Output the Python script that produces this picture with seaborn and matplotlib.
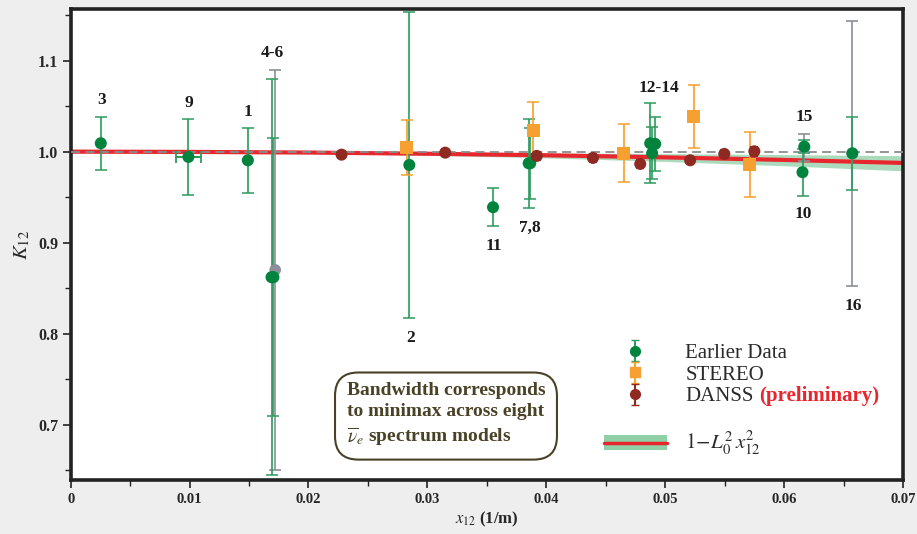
import numpy as np
import pandas as pd
import seaborn as sns
import matplotlib.pyplot as plt
from matplotlib.patches import Patch
from matplotlib.lines import Line2D
from matplotlib.legend_handler import HandlerTuple

# earlier data (green)
early_x = [0.00253, 0.0099, 0.0149, 0.01689, 0.01705, 0.02848, 0.03552, 0.03852,
           0.03865, 0.04874, 0.04916, 0.0489, 0.06155, 0.0617, 0.06574]
early_y = [1.0092, 0.9942, 0.9905, 0.862, 0.862, 0.9854, 0.9389, 0.9872,
           0.9872, 1.0092, 1.0085, 0.9982, 0.9774, 1.0055, 0.9982]
early_err = [0.029, 0.042, 0.0355, 0.218, 0.153, 0.168, 0.0207, 0.049,
             0.039, 0.044, 0.0295, 0.0288, 0.026, 0.007, 0.040]
early_xerr = [0, 0.00108, 0, 0, 0, 0, 0, 0, 0, 0, 0, 0, 0, 0, 0]

# alternative values of the earlier data (grey)
alt_x = [0.0172, 0.0617, 0.06574]
alt_y = [0.870, 1.0048, 0.998]
alt_err = [0.220, 0.015, 0.146]

# STEREO
stereo_x = [0.02825, 0.0389, 0.0465, 0.0524, 0.0571]
stereo_y = [1.0048, 1.0231, 0.9982, 1.0385, 0.9861]
stereo_err = [0.030, 0.031, 0.032, 0.035, 0.036]

# DANSS (preliminary)
danss_x = [0.02278, 0.0315, 0.0392, 0.04392, 0.0479, 0.0521, 0.05497, 0.0575]
danss_y = [0.9967, 0.9989, 0.9953, 0.9931, 0.9865, 0.9905, 0.9975, 1.0004]
danss_err = [0.004, 0.004, 0.004, 0.004, 0.004, 0.004, 0.004, 0.005]

# model 1 - L0^2 x^2 and its band
curve_x = [0, 0.01, 0.02, 0.03, 0.04, 0.05, 0.06, 0.07]
curve_mid = [1.0, 0.9997, 0.999, 0.9977, 0.996, 0.9937, 0.9909, 0.9876]
curve_hi = [1.0, 1.0, 0.9996, 0.9992, 0.9986, 0.9978, 0.9968, 0.9956]
curve_lo = [1.0, 0.9996, 0.9983, 0.9961, 0.9931, 0.9892, 0.9845, 0.9789]

# point labels
lab_txt = ['3', '9', '1', '4-6', '2', '11', '7,8', '12-14', '15', '10', '16']
lab_x = [0.00264, 0.00996, 0.01492, 0.01694, 0.02856, 0.03555, 0.03866,
         0.04944, 0.06173, 0.06164, 0.06585]
lab_y = [1.0568, 1.0535, 1.0436, 1.1085, 0.7953, 0.8964, 0.9162,
         1.070, 1.038, 0.9315, 0.8304]

GREEN = '#00843d'
GREEN_BAR = '#2f9b5e'
ORANGE = '#f5a030'
DARKRED = '#8e2a22'
GREY = '#8a8f99'
RED = '#e8262d'
OLIVE = '#4a4226'

sns.set_theme(style='ticks')
plt.rcParams['font.family'] = ['Liberation Serif', 'DejaVu Serif']
plt.rcParams['mathtext.fontset'] = 'stix'

fig = plt.figure(figsize=(9.17, 5.34), dpi=100, facecolor='#eeeeee')
ax = fig.add_axes([0.0771, 0.1011, 0.9076, 0.8815])
ax.set_facecolor('white')

# band + model line
ax.fill_between(curve_x, curve_lo, curve_hi, color='#8fd0a6', alpha=0.75, lw=0, zorder=1)
curve = pd.DataFrame({'x': curve_x, 'y': curve_mid})
sns.lineplot(data=curve, x='x', y='y', color=RED, lw=3.0, ax=ax, zorder=2)
ax.axhline(1.0, color='#8c8c8c', ls=(0, (5, 3)), lw=1.3, zorder=3)

# error bars
ax.errorbar(alt_x, alt_y, yerr=alt_err, fmt='none', ecolor=GREY, elinewidth=1.2,
            capsize=4, capthick=1.2, zorder=3)
ax.errorbar(early_x, early_y, yerr=early_err, fmt='none', ecolor=GREEN_BAR, alpha=0.85,
            elinewidth=1.5, capsize=4, capthick=1.3, zorder=4)
xe = [i for i, v in enumerate(early_xerr) if v > 0]
ax.errorbar([early_x[i] for i in xe], [early_y[i] for i in xe],
            xerr=[early_xerr[i] for i in xe], fmt='none', ecolor=GREEN_BAR,
            elinewidth=1.5, capsize=4, capthick=1.3, zorder=4)
ax.errorbar(stereo_x, stereo_y, yerr=stereo_err, fmt='none', ecolor=ORANGE, alpha=0.85,
            elinewidth=1.5, capsize=4, capthick=1.3, zorder=4)
ax.errorbar(danss_x, danss_y, yerr=danss_err, fmt='none', ecolor=DARKRED,
            elinewidth=1.5, capsize=3, capthick=1.3, zorder=4)

# markers
sns.scatterplot(x=alt_x, y=alt_y, color=GREY, s=70, edgecolor='none', ax=ax, zorder=5)
sns.scatterplot(x=early_x, y=early_y, color=GREEN, s=75, edgecolor='none', ax=ax, zorder=6)
sns.scatterplot(x=stereo_x, y=stereo_y, color=ORANGE, marker='s', s=85, edgecolor='none',
                ax=ax, zorder=6)
sns.scatterplot(x=danss_x, y=danss_y, color=DARKRED, s=75, edgecolor='none', ax=ax, zorder=6)

for t, x, y in zip(lab_txt, lab_x, lab_y):
    ax.text(x, y, t, ha='center', va='center', fontsize=12.5, weight='bold', color='#1a1a1a')

ax.set_xlim(0, 0.07)
ax.set_ylim(0.639, 1.1565)
ax.set_xticks([0, 0.01, 0.02, 0.03, 0.04, 0.05, 0.06, 0.07],
              ['0', '0.01', '0.02', '0.03', '0.04', '0.05', '0.06', '0.07'])
ax.set_xticks(np.arange(0.005, 0.07, 0.01), minor=True)
ax.set_yticks([0.7, 0.8, 0.9, 1.0, 1.1], ['0.7', '0.8', '0.9', '1.0', '1.1'])
ax.set_yticks([0.65, 0.75, 0.85, 0.95, 1.05, 1.15], minor=True)
ax.tick_params(axis='both', which='major', length=6, width=1.2, color='#222222', pad=3)
ax.tick_params(axis='x', labelsize=10.5)
ax.tick_params(axis='y', labelsize=11.5)
ax.tick_params(axis='both', which='minor', length=4, width=1.0, color='#222222')
for lbl in ax.get_xticklabels() + ax.get_yticklabels():
    lbl.set_fontweight('bold')
for sp in ax.spines.values():
    sp.set_visible(True)
    sp.set_linewidth(2.6)
    sp.set_color('#222222')

ax.set_xlabel(r'$x_{12}$ (1/m)', fontsize=12, weight='bold', labelpad=3)
ax.set_ylabel(r'$K_{12}$', fontsize=15, weight='bold', labelpad=4)

# legend
h_early = ax.errorbar([np.nan], [np.nan], yerr=[0.01], fmt='o', color=GREEN, ms=7,
                      ecolor=GREEN_BAR, capsize=3)
h_stereo = ax.errorbar([np.nan], [np.nan], yerr=[0.01], fmt='s', color=ORANGE, ms=7,
                       ecolor=ORANGE, capsize=3)
h_danss = ax.errorbar([np.nan], [np.nan], yerr=[0.01], fmt='o', color=DARKRED, ms=7,
                      ecolor=DARKRED, capsize=3)
h_blank = Line2D([], [], alpha=0)
h_band = (Patch(facecolor='#8fd0a6', edgecolor='none'), Line2D([], [], color=RED, lw=2.5))
leg = ax.legend([h_early, h_stereo, h_danss, h_blank, h_band],
                ['Earlier Data', 'STEREO', 'DANSS', ' ', r'$1\!-\!L_0^2\,x_{12}^2$'],
                loc='upper left', bbox_to_anchor=(0.641, 0.29), frameon=False,
                fontsize=15, handlelength=3.0, handletextpad=0.9, labelspacing=0.1,
                borderpad=0, borderaxespad=0,
                handler_map={tuple: HandlerTuple(ndivide=1)})
for t in leg.get_texts():
    t.set_color('#2a2a2a')
ax.annotate('(preliminary)', xy=(1, 0), xycoords=leg.get_texts()[2], xytext=(4, 0),
            textcoords='offset points', ha='left', va='bottom', fontsize=15,
            weight='bold', color=RED, zorder=10)

ax.text(0.3316, 0.138,
        'Bandwidth corresponds\nto minimax across eight\n' + r'$\overline{\nu}_e$ spectrum models',
        transform=ax.transAxes, ha='left', va='center', fontsize=14, weight='bold',
        color=OLIVE, linespacing=1.3,
        bbox=dict(boxstyle='round,pad=0.6,rounding_size=1.2', facecolor='white',
                  edgecolor=OLIVE, lw=1.5))

fig.savefig('out.png', dpi=100, facecolor=fig.get_facecolor())
